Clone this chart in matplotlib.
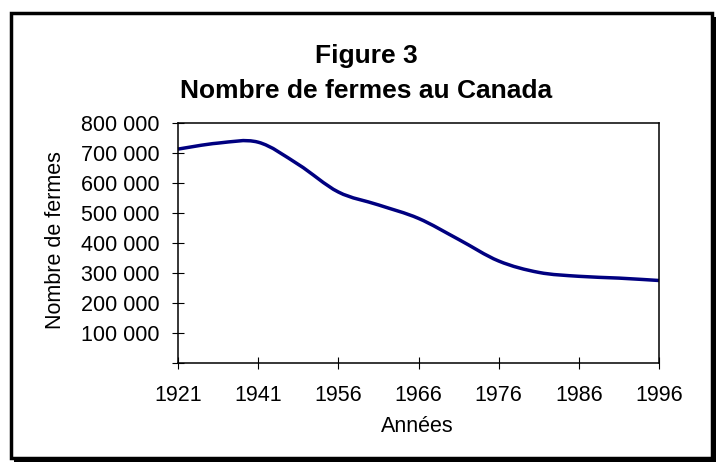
import numpy as np
import matplotlib
matplotlib.use('Agg')
import matplotlib.pyplot as plt
from matplotlib.path import Path
from matplotlib.patches import PathPatch, Rectangle

# Données (recensements de l'agriculture)
annees = [1921, 1931, 1941, 1951, 1956, 1961, 1966, 1971, 1976, 1981, 1986, 1991, 1996]
fermes = [713000, 733000, 736000, 662000, 570000, 527000, 482000, 412000,
          340000, 302000, 289000, 283000, 275000]
ticks_y = [0, 100000, 200000, 300000, 400000, 500000, 600000, 700000, 800000]

plt.rcParams['font.family'] = ['Liberation Sans', 'DejaVu Sans']

W, H = 717, 463
fig = plt.figure(figsize=(W / 100, H / 100), dpi=100)

def fx(px):
    return px / W

def fy(py):
    return 1 - py / H

# Cadre avec ombre (style Excel)
ombre = Rectangle((fx(14), fy(462)), fx(716) - fx(14), fy(17) - fy(462),
                  transform=fig.transFigure, facecolor='black', edgecolor='none', zorder=-3)
cadre = Rectangle((fx(10.5), fy(457.5)), fx(711.5) - fx(10.5), fy(13) - fy(457.5),
                  transform=fig.transFigure, facecolor='white', edgecolor='black',
                  linewidth=2.5, zorder=-2)
fig.add_artist(ombre)
fig.add_artist(cadre)

# Zone de tracé
x0, x1, y0, y1 = 178, 659, 123, 363
ax = fig.add_axes([fx(x0), fy(y1), fx(x1) - fx(x0), fy(y0) - fy(y1)])

x = np.arange(len(annees))

# Ligne lissée (courbes de Bézier comme Excel)
pts = np.column_stack([x, fermes]).astype(float)
verts = [tuple(pts[0])]
codes = [Path.MOVETO]
n = len(pts)
for i in range(n - 1):
    p_prev = pts[i - 1] if i > 0 else pts[i]
    p_next2 = pts[i + 2] if i + 2 < n else pts[i + 1]
    c1 = pts[i] + (pts[i + 1] - p_prev) / 6
    c2 = pts[i + 1] - (p_next2 - pts[i]) / 6
    verts += [tuple(c1), tuple(c2), tuple(pts[i + 1])]
    codes += [Path.CURVE4] * 3
ax.add_patch(PathPatch(Path(verts, codes), fill=False, edgecolor='#000080',
                       linewidth=2.5, capstyle='butt', joinstyle='round', clip_on=False))

ax.set_xlim(0, len(annees) - 1)
ax.set_ylim(0, 800000)

ax.set_xticks(x[::2])
ax.set_xticklabels([str(a) for a in annees[::2]])
ax.set_yticks(ticks_y)
ax.set_yticklabels(['' if v == 0 else f'{v:,.0f}'.replace(',', ' ') for v in ticks_y])

for s in ax.spines.values():
    s.set_linewidth(1.1)
    s.set_color('black')

ax.tick_params(axis='both', direction='inout', length=8, width=0.8,
               labelsize=15.5, colors='black')
ax.tick_params(axis='y', pad=9)
ax.tick_params(axis='x', pad=12)

# Titres et libellés
fig.text(fx(366.5), fy(63.3), 'Figure 3', ha='center', va='baseline',
         fontsize=19, fontweight='bold')
fig.text(fx(366.5), fy(98.3), 'Nombre de fermes au Canada', ha='center', va='baseline',
         fontsize=19, fontweight='bold')
fig.text(fx(61.5), fy(240), 'Nombre de fermes', rotation=90, rotation_mode='anchor',
         ha='center', va='baseline', fontsize=15.5)
fig.text(fx(417.5), fy(431.7), 'Années', ha='center', va='baseline', fontsize=15.5)

fig.savefig('out.png', dpi=100)
